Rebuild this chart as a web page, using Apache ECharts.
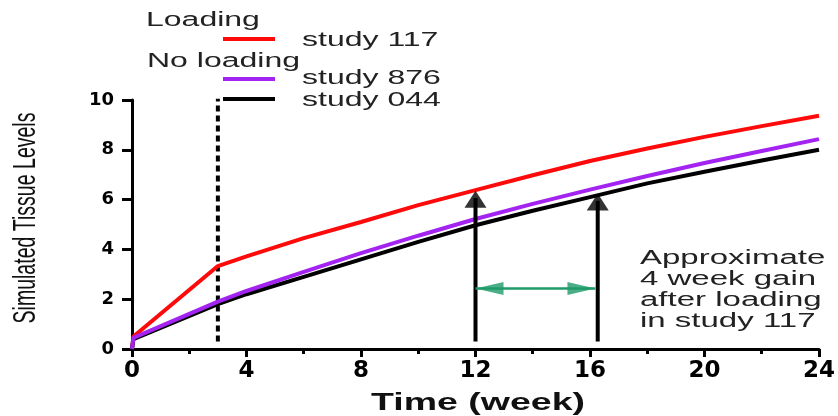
<!DOCTYPE html>
<html>
<head>
<meta charset="utf-8">
<script src="https://cdn.jsdelivr.net/npm/echarts@6/dist/echarts.min.js"></script>
<style>
html,body{margin:0;padding:0;background:#fff;}
#chart{width:838px;height:416px;}
</style>
</head>
<body>
<div id="chart"></div>
<script>
// ---- data ----
const timeWeeks   = [0, 0.05, 3, 4, 6, 8, 10, 12, 14, 16, 18, 20, 22, 24];
const study117    = [0, 0.5, 3.33, 3.72, 4.45, 5.1, 5.78, 6.38, 6.98, 7.55, 8.05, 8.52, 8.95, 9.37];
const study876    = [0, 0.45, 1.9, 2.33, 3.1, 3.85, 4.55, 5.22, 5.83, 6.4, 6.95, 7.47, 7.95, 8.43];
const study044    = [0, 0.4, 1.8, 2.2, 2.9, 3.6, 4.3, 4.97, 5.55, 6.1, 6.65, 7.12, 7.57, 8.0];
const xTicks      = [0, 4, 8, 12, 16, 20, 24];
const yTicks      = [0, 2, 4, 6, 8, 10];
const loadingEnd  = 3;                    // dashed line at week 3
const dashedRange = [0.3, 10.05];
const arrowWeeks  = [12, 16.27];          // vertical arrows
const arrowTips   = [6.36, 6.25];
const arrowBase   = 0.3;
const gainY       = 2.43;                 // green double arrow level
const gainFrom    = 12.0;
const gainTo      = 16.19;

const pairs = (xs, ys) => xs.map((x, i) => [x, ys[i]]);

const RED = '#ff0a0a', PURPLE = '#a323f0', BLACK = '#000000', GREEN = '#1f9a68';
const FONT = 'Liberation Sans';

const chart = echarts.init(document.getElementById('chart'));

const option = {
  backgroundColor: '#ffffff',
  animation: false,
  grid: { left: 132, right: 17, top: 100, bottom: 67, containLabel: false },
  xAxis: {
    type: 'value', min: xTicks[0], max: xTicks[xTicks.length - 1], interval: 4,
    axisLine: { show: true, lineStyle: { color: '#000', width: 3 } },
    axisTick: { show: true, length: 8, lineStyle: { color: '#000', width: 3 } },
    minorTick: { show: true, splitNumber: 2, length: 5, lineStyle: { color: '#000', width: 3 } },
    splitLine: { show: false },
    axisLabel: {
      color: '#000', fontFamily: 'DejaVu Sans', fontWeight: 'bold', fontSize: 23, margin: 11,
      formatter: v => xTicks.includes(v) ? String(v) : ''
    }
  },
  yAxis: {
    type: 'value', min: yTicks[0], max: yTicks[yTicks.length - 1], interval: 2,
    axisLine: { show: true, lineStyle: { color: '#000', width: 3 } },
    axisTick: { show: true, length: 10, lineStyle: { color: '#000', width: 3 } },
    splitLine: { show: false },
    axisLabel: {
      color: '#000', fontFamily: 'DejaVu Sans', fontWeight: 'bold', fontSize: 18, margin: 18,
      formatter: v => yTicks.includes(v) ? String(v) : ''
    }
  },
  series: [
    { name: 'study 117', type: 'line', data: pairs(timeWeeks, study117), symbol: 'none',
      lineStyle: { color: RED, width: 4 }, z: 3 },
    { name: 'study 044', type: 'line', data: pairs(timeWeeks, study044), symbol: 'none',
      lineStyle: { color: BLACK, width: 4 }, z: 3 },
    { name: 'study 876', type: 'line', data: pairs(timeWeeks, study876), symbol: 'none',
      lineStyle: { color: PURPLE, width: 4 }, z: 4 },
    { name: 'loading end', type: 'line', clip: false, symbol: 'none',
      data: [[loadingEnd, dashedRange[0]], [loadingEnd, dashedRange[1]]],
      lineStyle: { color: BLACK, width: 4, type: [6, 4] }, z: 2 },
    { name: 'arrow1', type: 'line', symbol: 'none',
      data: [[arrowWeeks[0], arrowBase], [arrowWeeks[0], arrowTips[0] - 0.3]],
      lineStyle: { color: BLACK, width: 4 }, z: 5 },
    { name: 'arrow2', type: 'line', symbol: 'none',
      data: [[arrowWeeks[1], arrowBase], [arrowWeeks[1], arrowTips[1] - 0.3]],
      lineStyle: { color: BLACK, width: 4 }, z: 5 },
    { name: 'arrowHeads', type: 'scatter', symbol: 'triangle', symbolSize: [22, 17],
      symbolOffset: [0, 8.5],
      data: pairs(arrowWeeks, arrowTips), itemStyle: { color: BLACK }, z: 6 },
    { name: 'gain', type: 'line', symbol: 'none',
      data: [[gainFrom, gainY], [gainTo, gainY]],
      lineStyle: { color: GREEN, width: 2.5 }, z: 5 },
    { name: 'gainLeft', type: 'scatter', symbol: 'triangle', symbolSize: [13, 28],
      symbolRotate: 90, symbolOffset: [14, 0],
      data: [[gainFrom, gainY]], itemStyle: { color: GREEN }, z: 6 },
    { name: 'gainRight', type: 'scatter', symbol: 'triangle', symbolSize: [13, 28],
      symbolRotate: -90, symbolOffset: [-14, 0],
      data: [[gainTo, gainY]], itemStyle: { color: GREEN }, z: 6 }
  ],
  graphic: [
    // legend
    { type: 'text', x: 146, y: 20, scaleX: 1.6,
      style: { text: 'Loading', fontFamily: FONT, fontSize: 20, fill: '#222', align: 'left', verticalAlign: 'middle' } },
    { type: 'line', shape: { x1: 223, y1: 39, x2: 275, y2: 39 }, style: { stroke: RED, lineWidth: 4 } },
    { type: 'text', x: 302, y: 40, scaleX: 1.6,
      style: { text: 'study 117', fontFamily: FONT, fontSize: 20, fill: '#222', align: 'left', verticalAlign: 'middle' } },
    { type: 'text', x: 147, y: 61, scaleX: 1.6,
      style: { text: 'No loading', fontFamily: FONT, fontSize: 20, fill: '#222', align: 'left', verticalAlign: 'middle' } },
    { type: 'line', shape: { x1: 223, y1: 79, x2: 275, y2: 79 }, style: { stroke: PURPLE, lineWidth: 4 } },
    { type: 'text', x: 302, y: 78, scaleX: 1.6,
      style: { text: 'study 876', fontFamily: FONT, fontSize: 20, fill: '#222', align: 'left', verticalAlign: 'middle' } },
    { type: 'line', shape: { x1: 223, y1: 99, x2: 275, y2: 99 }, style: { stroke: BLACK, lineWidth: 4 } },
    { type: 'text', x: 302, y: 100, scaleX: 1.6,
      style: { text: 'study 044', fontFamily: FONT, fontSize: 20, fill: '#222', align: 'left', verticalAlign: 'middle' } },
    // axis names
    { type: 'text', x: 26, y: 218, rotation: Math.PI / 2, scaleX: 0.63,
      style: { text: 'Simulated Tissue Levels', fontFamily: FONT, fontSize: 31, fill: '#111', align: 'center', verticalAlign: 'middle' } },
    { type: 'text', x: 478, y: 404, scaleX: 1.63,
      style: { text: 'Time (week)', fontFamily: FONT, fontWeight: 'bold', fontSize: 23, fill: '#111', align: 'center', verticalAlign: 'middle' } },
    // annotation
    { type: 'text', x: 640, y: 290, scaleX: 1.65,
      style: { text: 'Approximate\n4 week gain\nafter loading\nin study 117', fontFamily: FONT, fontSize: 20, lineHeight: 21,
               fill: '#222', align: 'left', verticalAlign: 'middle' } }
  ]
};
chart.setOption(option);
</script>
</body>
</html>
